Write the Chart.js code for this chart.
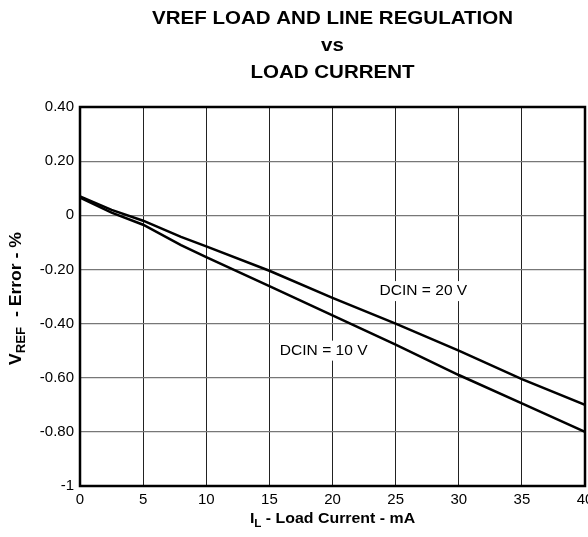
<!DOCTYPE html>
<html>
<head>
<meta charset="utf-8">
<script src="https://cdn.jsdelivr.net/npm/chart.js@4"></script>
<style>
  html, body { margin: 0; padding: 0; background: #fff; }
  #wrap { width: 588px; height: 537px; }
</style>
</head>
<body>
<div id="wrap"><canvas id="regChart" width="588" height="537"></canvas></div>
<script>
// Load current (mA) and VREF error (%)
const loadCurrent = [0, 2.5, 5, 8, 10, 15, 20, 25, 30, 35, 40];
const errorDcin20 = [0.07, 0.02, -0.02, -0.08, -0.115, -0.205, -0.305, -0.40, -0.50, -0.605, -0.70];
const errorDcin10 = [0.065, 0.01, -0.035, -0.11, -0.155, -0.262, -0.37, -0.478, -0.59, -0.695, -0.80];
const titleLines = ['VREF LOAD AND LINE REGULATION', 'vs', 'LOAD CURRENT'];
const curveLabels = [
    { text: 'DCIN = 20 V', x: 27.2, y: -0.28 },
    { text: 'DCIN = 10 V', x: 19.3, y: -0.50 }
];

const FONT = '"Liberation Sans", Arial, sans-serif';

const toPoints = (ys) => loadCurrent.map((x, i) => ({ x: x, y: ys[i] }));

// texte étiré horizontalement (la police du modèle est plus large qu'Arial)
function stretchText(ctx, text, x, y, sx) {
    ctx.save();
    ctx.translate(x, y);
    ctx.scale(sx, 1);
    ctx.fillText(text, 0, 0);
    ctx.restore();
}

// titre, libellés des axes (avec indices) et cadre
const decorPlugin = {
    id: 'decor',
    afterDatasetsDraw(chart) {
        const { ctx, chartArea: a, scales } = chart;
        const cx = (a.left + a.right) / 2;
        ctx.save();

        // courbes : étiquettes sur fond blanc
        ctx.font = '14px ' + FONT;
        ctx.textAlign = 'center';
        ctx.textBaseline = 'middle';
        curveLabels.forEach(l => {
            const px = scales.x.getPixelForValue(l.x);
            const py = scales.y.getPixelForValue(l.y);
            const w = ctx.measureText(l.text).width * 1.11 + 8;
            ctx.fillStyle = '#fff';
            ctx.fillRect(px - w / 2, py - 10, w, 20);
            ctx.fillStyle = '#000';
            stretchText(ctx, l.text, px, py, 1.11);
        });

        // cadre
        ctx.strokeStyle = '#000';
        ctx.lineWidth = 2.5;
        ctx.strokeRect(a.left, a.top, a.right - a.left, a.bottom - a.top);

        // titre
        ctx.fillStyle = '#000';
        ctx.font = 'bold 18px ' + FONT;
        ctx.textBaseline = 'middle';
        stretchText(ctx, titleLines[0], cx, 19, 1.14);
        stretchText(ctx, titleLines[1], cx, 46, 1.14);
        stretchText(ctx, titleLines[2], cx, 73, 1.14);

        // texte avec indice, centré en x
        const drawSub = (parts, x, y, sx) => {
            let total = 0;
            parts.forEach(p => { ctx.font = p.font; total += ctx.measureText(p.t).width * sx; });
            let cur = x - total / 2;
            ctx.textAlign = 'left';
            parts.forEach(p => {
                ctx.font = p.font;
                stretchText(ctx, p.t, cur, y + (p.dy || 0), sx);
                cur += ctx.measureText(p.t).width * sx;
            });
        };
        drawSub([
            { t: 'I', font: 'bold 15px ' + FONT },
            { t: 'L', font: 'bold 11px ' + FONT, dy: 5 },
            { t: ' - Load Current - mA', font: 'bold 15px ' + FONT }
        ], cx, 519, 1.06);

        // axe Y : V_REF - Error - %
        ctx.translate(17, (a.top + a.bottom) / 2 + 2);
        ctx.rotate(-Math.PI / 2);
        drawSub([
            { t: 'V', font: 'bold 16px ' + FONT },
            { t: 'REF', font: 'bold 12px ' + FONT, dy: 5 },
            { t: '  - Error - %', font: 'bold 16px ' + FONT }
        ], 0, 0, 1.1);

        ctx.restore();
    }
};

new Chart(document.getElementById('regChart'), {
    type: 'line',
    data: {
        datasets: [
            {
                label: 'DCIN = 20 V',
                data: toPoints(errorDcin20),
                borderColor: '#000',
                borderWidth: 2.5,
                pointRadius: 0,
                tension: 0
            },
            {
                label: 'DCIN = 10 V',
                data: toPoints(errorDcin10),
                borderColor: '#000',
                borderWidth: 2.5,
                pointRadius: 0,
                tension: 0
            }
        ]
    },
    options: {
        responsive: false,
        animation: false,
        layout: { padding: { top: 107, right: 3, left: 0, bottom: 0 } },
        scales: {
            x: {
                type: 'linear',
                min: 0,
                max: 40,
                ticks: {
                    stepSize: 5,
                    color: '#000',
                    padding: 5,
                    maxRotation: 0,
                    font: { family: FONT, size: 15 }
                },
                grid: { color: '#222', lineWidth: 1, drawTicks: false },
                border: { display: false },
                afterFit(scale) {
                    scale.height = 51;
                    scale.paddingLeft = 0;
                    scale.paddingRight = 0;
                }
            },
            y: {
                min: -1,
                max: 0.4,
                ticks: {
                    stepSize: 0.2,
                    color: '#000',
                    padding: 6,
                    font: { family: FONT, size: 15 },
                    callback: function(value) {
                        if (Math.abs(value) < 1e-9) return '0';
                        if (Math.abs(value + 1) < 1e-9) return '-1';
                        return value.toFixed(2);
                    }
                },
                grid: { color: '#777', lineWidth: 1.2, drawTicks: false },
                border: { display: false },
                afterFit(scale) {
                    scale.width = 80;
                    scale.paddingTop = 0;
                    scale.paddingBottom = 0;
                }
            }
        },
        plugins: {
            legend: { display: false },
            title: { display: false },
            tooltip: { enabled: false }
        }
    },
    plugins: [decorPlugin]
});
</script>
</body>
</html>
